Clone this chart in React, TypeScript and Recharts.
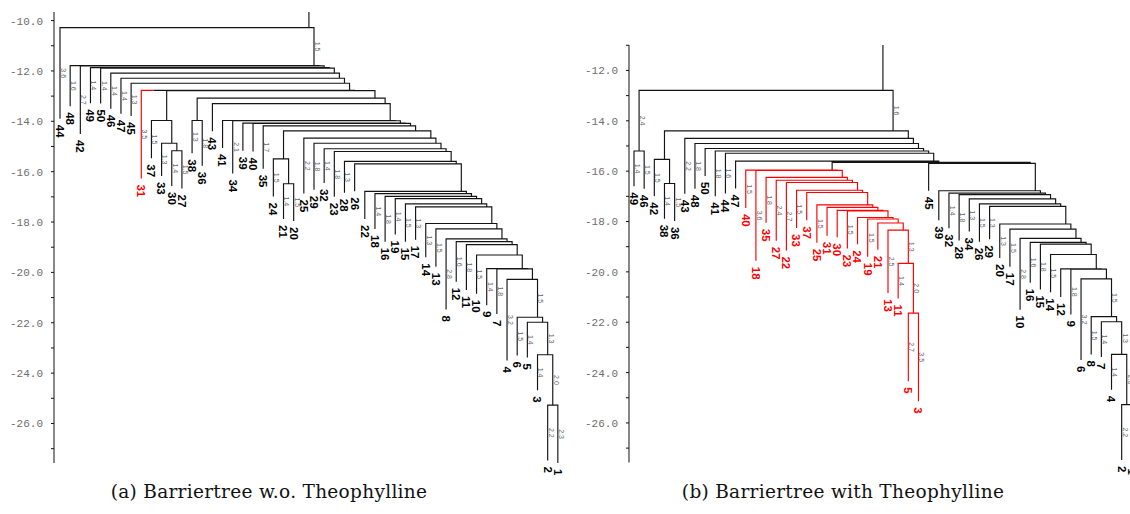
import React from 'react';
import { ComposedChart, Line, Scatter, XAxis, YAxis } from 'recharts';

// A barrier tree is written as a chain: each link [subtree, saddle] merges that
// subtree with everything that follows it in the chain at the given saddle energy.
// The last link of a chain carries no saddle. A subtree is a minimum number or a chain.
type Tree = number | Link[];
type Link = [Tree] | [Tree, number];

// ---------- (a) without theophylline ----------
const minimaA: [number, number][] = [
  [44, -13.9], [48, -13.4], [42, -14.5], [49, -13.28], [50, -13.29], [46, -13.5], [47, -13.7],
  [45, -13.79], [31, -16.27], [37, -15.47], [33, -16.17], [30, -16.57], [27, -16.67], [38, -15.27],
  [36, -15.77], [43, -14.4], [41, -15.06], [34, -16.07], [39, -15.17], [40, -15.2], [35, -15.88],
  [24, -16.99], [21, -17.88], [20, -17.96], [25, -16.87], [29, -16.72], [32, -16.45], [23, -17.0],
  [28, -16.84], [26, -16.78], [22, -17.88], [18, -18.28], [16, -18.78], [19, -18.5], [15, -18.78],
  [17, -18.7], [14, -19.4], [13, -19.78], [8, -21.47], [12, -20.37], [11, -20.7], [10, -20.85],
  [9, -21.3], [7, -21.65], [4, -23.5], [6, -23.3], [5, -23.38], [3, -24.68], [2, -27.47], [1, -27.57],
];
const a37to27: Link[] = [[37, -13.97], [33, -14.87], [30, -15.17], [27]];
const a38and36: Link[] = [[38, -13.97], [36]];
const a24to20: Link[] = [[24, -15.49], [21, -16.48], [20]];
const a2and1: Link[] = [[2, -25.27], [1]];
const a3to1: Link[] = [[3, -23.27], [a2and1]];
const treeA: Link[] = [
  [44, -10.28], [48, -11.79], [42, -11.8], [49, -11.87], [50, -11.89], [46, -12.09], [47, -12.29],
  [45, -12.49], [31, -12.77], [a37to27, -12.78], [a38and36, -13.08], [43, -13.3], [41, -13.97],
  [34, -13.98], [39, -14.07], [40, -14.08], [35, -14.18], [a24to20, -14.38], [25, -14.67],
  [29, -14.87], [32, -15.09], [23, -15.2], [28, -15.59], [26, -15.69], [22, -16.78], [18, -16.87],
  [16, -16.98], [19, -17.07], [15, -17.28], [17, -17.4], [14, -18.06], [13, -18.27], [8, -18.67],
  [12, -18.78], [11, -18.9], [10, -19.31], [9, -19.85], [7, -19.86], [4, -20.28], [6, -21.78],
  [5, -21.98], [a3to1],
];
const redLeavesA = [31];
const ticksA = [-27, -26, -25, -24, -23, -22, -21, -20, -19, -18, -17, -16, -15, -14, -13, -12, -11, -10];

// ---------- (b) with theophylline ----------
const minimaB: [number, number][] = [
  [49, -16.6], [46, -16.7], [42, -17.0], [38, -17.89], [36, -17.98], [43, -16.9], [48, -16.7],
  [50, -16.19], [41, -17.0], [44, -16.89], [47, -16.69], [40, -17.46], [18, -19.56], [35, -18.05],
  [27, -18.76], [22, -19.15], [33, -18.26], [37, -17.95], [25, -18.84], [31, -18.57], [30, -18.63],
  [23, -19.07], [24, -18.9], [19, -19.4], [21, -19.12], [13, -20.84], [11, -21.06], [5, -24.34],
  [3, -25.14], [45, -16.78], [39, -17.95], [32, -18.27], [28, -18.75], [34, -18.4], [26, -18.8],
  [29, -18.7], [20, -19.45], [17, -19.8], [10, -21.5], [16, -20.43], [15, -20.7], [14, -20.81],
  [12, -21.0], [9, -21.69], [6, -23.5], [8, -23.28], [7, -23.38], [4, -24.68], [2, -27.47], [1, -27.57],
];
const b49and46: Link[] = [[49, -15.2], [46]];
const b42to36: Link[] = [[42, -15.53], [38, -16.49], [36]];
const b5and3: Link[] = [[5, -21.64], [3]];
const b13to3: Link[] = [[13, -18.34], [11, -19.66], [b5and3]];
const bBound: Link[] = [
  [40, -15.96], [18, -15.97], [35, -16.25], [27, -16.36], [22, -16.45], [33, -16.76], [37, -16.85],
  [25, -17.34], [31, -17.44], [30, -17.56], [23, -17.58], [24, -17.84], [19, -17.9], [21, -18.06],
  [b13to3],
];
const b2and1: Link[] = [[2, -25.27], [1]];
const b4to1: Link[] = [[4, -23.28], [b2and1]];
const b39to1: Link[] = [
  [39, -16.78], [32, -16.87], [28, -16.93], [34, -17.1], [26, -17.3], [29, -17.4], [20, -18.1],
  [17, -18.3], [10, -18.67], [16, -18.83], [15, -18.9], [14, -19.31], [12, -19.88], [9, -19.89],
  [6, -20.28], [8, -21.78], [7, -21.98], [b4to1],
];
const b45to1: Link[] = [[45, -15.69], [b39to1]];
const treeB: Link[] = [
  [b49and46, -12.79], [b42to36, -14.4], [43, -14.7], [48, -14.9], [50, -15.1], [41, -15.2],
  [44, -15.29], [47, -15.6], [bBound, -15.65], [b45to1],
];
const redTreesB = [bBound];
const ticksB = [-27, -26, -25, -24, -23, -22, -21, -20, -19, -18, -17, -16, -15, -14, -13, -12, -11];

// ---------- layout ----------
const LEAF_PX = 10.16;
const UNIT_PX = 25.24;
const AXIS_W = 54;
const MIN_LABELLED = 1.25;
const TAIL = 1.2;

interface TNode { x: number; y: number; leaf?: number; kids?: [TNode, TNode]; red: boolean; sum: number; n: number; }
type Pt = { x: number; y: number | null };
type Mark = { x: number; y: number; label: string; red?: boolean };

function buildTree(tree: Link[], minima: [number, number][], redLeaves: number[], redTrees: Link[][]): TNode {
  const energy = new Map(minima);
  let next = 0;
  const fromTree = (t: Tree, red: boolean): TNode => {
    if (typeof t === 'number') {
      const i = next++;
      return { x: i, y: energy.get(t) as number, leaf: t, red: red || redLeaves.includes(t), sum: i, n: 1 };
    }
    return fromChain(t, 0, red || redTrees.includes(t));
  };
  const fromChain = (links: Link[], k: number, red: boolean): TNode => {
    const head = fromTree(links[k][0], red);
    if (k === links.length - 1) return head;
    const rest = fromChain(links, k + 1, red);
    const sum = head.sum + rest.sum;
    const n = head.n + rest.n;
    return { x: sum / n, y: links[k][1] as number, kids: [head, rest], red, sum, n };
  };
  return fromChain(tree, 0, false);
}

function trace(root: TNode, yTop: number) {
  const black: Pt[] = [];
  const red: Pt[] = [];
  const leaves: Mark[] = [];
  const edges: Mark[] = [];
  const push = (arr: Pt[], pts: Pt[]) => {
    arr.push(...pts);
    arr.push({ x: pts[pts.length - 1].x, y: null });
  };
  push(black, [{ x: root.x, y: root.y }, { x: root.x, y: yTop }]);
  const walk = (p: TNode) => {
    if (!p.kids) {
      leaves.push({ x: p.x, y: p.y, label: String(p.leaf), red: p.red });
      return;
    }
    const [l, r] = p.kids;
    const s = p.y;
    if (p.red) {
      push(red, [{ x: l.x, y: l.y }, { x: l.x, y: s }, { x: r.x, y: s }, { x: r.x, y: r.y }]);
    } else {
      const lHot = l.red && !l.kids;
      const rHot = r.red && !r.kids;
      const a = lHot ? l.x + TAIL : l.x;
      const b = rHot ? r.x - TAIL : r.x;
      if (lHot) push(red, [{ x: l.x, y: l.y }, { x: l.x, y: s }, { x: a, y: s }]);
      if (rHot) push(red, [{ x: b, y: s }, { x: r.x, y: s }, { x: r.x, y: r.y }]);
      const seg: Pt[] = [];
      if (!lHot) seg.push({ x: l.x, y: l.y });
      seg.push({ x: a, y: s }, { x: b, y: s });
      if (!rHot) seg.push({ x: r.x, y: r.y });
      push(black, seg);
    }
    for (const c of [l, r]) {
      const len = s - c.y;
      if (len >= MIN_LABELLED) edges.push({ x: c.x, y: (s + c.y) / 2, label: len.toFixed(1) });
      walk(c);
    }
  };
  walk(root);
  return { black, red, leaves, edges };
}

const EnergyTick = (props: any) => {
  const { x, y, payload } = props;
  const v = payload.value as number;
  if (Math.abs(Math.round(v)) % 2 !== 0) return <g />;
  return (
    <text x={x} y={y} dy="0.36em" textAnchor="end" fill="#6e6e6e"
      style={{ fontFamily: '"Liberation Mono", monospace', fontSize: 11 }}>
      {v.toFixed(1)}
    </text>
  );
};

const LeafLabel = (props: any) => {
  const { cx, cy, payload } = props;
  const ty = cy + 6;
  return (
    <text x={cx} y={ty} dy="0.36em" textAnchor="start" transform={`rotate(90 ${cx} ${ty})`}
      fill={payload.red ? '#ff0000' : '#000'}
      style={{ fontFamily: '"Liberation Sans", Arial, sans-serif', fontSize: 11.5, fontWeight: 700 }}>
      {payload.label}
    </text>
  );
};

const EdgeLabel = (props: any) => {
  const { cx, cy, payload } = props;
  const tx = cx + 3.4;
  return (
    <text x={tx} y={cy} dy="0.36em" textAnchor="middle" transform={`rotate(90 ${tx} ${cy})`}
      fill="#666"
      style={{ fontFamily: '"Liberation Sans", Arial, sans-serif', fontSize: 7 }}>
      {payload.label}
    </text>
  );
};

interface PanelProps {
  tree: Link[]; minima: [number, number][]; redLeaves: number[]; redTrees: Link[][];
  yDomain: [number, number]; ticks: number[]; left: number; plotTop: number;
  firstLeafGap: number; lastSlot: number;
}

function Panel(p: PanelProps) {
  const root = buildTree(p.tree, p.minima, p.redLeaves, p.redTrees);
  const { black, red, leaves, edges } = trace(root, p.yDomain[1]);
  const x0 = -p.firstLeafGap / LEAF_PX;
  const width = AXIS_W + (p.lastSlot - x0) * LEAF_PX;
  const plotH = (p.yDomain[1] - p.yDomain[0]) * UNIT_PX;
  const bottom = 30;
  const height = p.plotTop + plotH + bottom;
  return (
    <div style={{ position: 'absolute', left: p.left, top: 0 }}>
      <ComposedChart width={width} height={height}
        margin={{ top: p.plotTop, right: 0, bottom, left: 0 }}>
        <XAxis type="number" dataKey="x" domain={[x0, p.lastSlot]} hide />
        <YAxis type="number" dataKey="y" domain={p.yDomain} ticks={p.ticks} interval={0}
          width={AXIS_W} tickSize={3} tickMargin={8} tick={EnergyTick}
          axisLine={{ stroke: '#111', strokeWidth: 1 }} tickLine={{ stroke: '#111' }} />
        <Line data={black} dataKey="y" stroke="#141414" strokeWidth={1.15} dot={false}
          activeDot={false} connectNulls={false} isAnimationActive={false} type="linear" />
        <Line data={red} dataKey="y" stroke="#ff0000" strokeWidth={1.15} dot={false}
          activeDot={false} connectNulls={false} isAnimationActive={false} type="linear" />
        <Scatter data={edges} dataKey="y" shape={EdgeLabel} isAnimationActive={false} />
        <Scatter data={leaves} dataKey="y" shape={LeafLabel} isAnimationActive={false} />
      </ComposedChart>
    </div>
  );
}

const captionStyle: React.CSSProperties = {
  position: 'absolute', top: 480, width: 440, height: 24, lineHeight: '24px', textAlign: 'center',
  fontFamily: '"DejaVu Serif", serif', fontSize: 18.5, letterSpacing: 0.3, color: '#111', whiteSpace: 'nowrap',
};

export default function App() {
  return (
    <div style={{ position: 'absolute', left: 0, top: 0, width: 1130, height: 514, overflow: 'hidden', background: '#fff' }}>
      <Panel tree={treeA} minima={minimaA} redLeaves={redLeavesA} redTrees={[]}
        yDomain={[-27.53, -9.66]} ticks={ticksA} left={0} plotTop={12} firstLeafGap={6} lastSlot={50.5} />
      <Panel tree={treeB} minima={minimaB} redLeaves={[]} redTrees={redTreesB}
        yDomain={[-27.53, -10.99]} ticks={ticksB} left={575} plotTop={45} firstLeafGap={5} lastSlot={51} />
      <div style={{ ...captionStyle, left: 269 - 220 }}>(a) Barriertree w.o. Theophylline</div>
      <div style={{ ...captionStyle, left: 843 - 220 }}>(b) Barriertree with Theophylline</div>
    </div>
  );
}
